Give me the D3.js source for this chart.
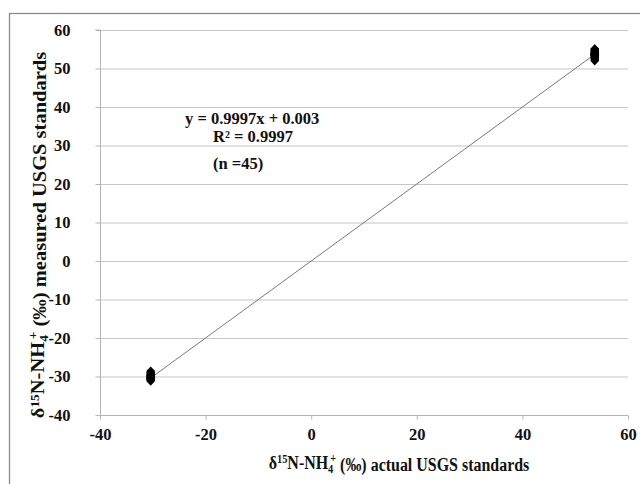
<!DOCTYPE html>
<html>
<head>
<meta charset="utf-8">
<script src="https://cdn.jsdelivr.net/npm/d3@7"></script>
<style>
body { margin: 0; background: #fff; }
text { font-family: "Liberation Serif", "Times New Roman", serif; font-weight: bold; fill: #111; }
</style>
</head>
<body>
<svg width="640" height="484"></svg>
<script>
var width = 640, height = 484

// USGS25 and USGS26 reference values (x) with the measured results (y)
var actualValues = [-30.4, 53.7]
var measuredLow = [-31.2, -31.0, -30.8, -30.7, -30.6, -30.5, -30.4, -30.4, -30.3, -30.2, -30.1,
	-30.0, -29.9, -29.8, -29.7, -29.6, -29.4, -29.2, -29.0, -28.8, -28.6]
var measuredHigh = [52.0, 52.3, 52.6, 52.8, 53.0, 53.2, 53.3, 53.4, 53.5, 53.5, 53.6, 53.7,
	53.7, 53.8, 53.9, 53.9, 54.0, 54.1, 54.2, 54.4, 54.6, 54.8, 55.0, 55.1]
var slope = 0.9997, intercept = 0.003
var xTicks = [-40, -20, 0, 20, 40, 60]
var yTicks = [-40, -30, -20, -10, 0, 10, 20, 30, 40, 50, 60]
var eqLines = ["y = 0.9997x + 0.003", "R² = 0.9997", "(n =45)"]

var points = []
measuredLow.forEach(function(v){ points.push({x: actualValues[0], y: v}) })
measuredHigh.forEach(function(v){ points.push({x: actualValues[1], y: v}) })

var svg = d3.select("svg")

// outer frame (runs off the right and bottom edges)
svg.append("rect")
	.attr("x", 9.5).attr("y", 13.5)
	.attr("width", 700).attr("height", 600)
	.attr("fill", "none").attr("stroke", "#8c8c8c").attr("stroke-width", 1.3)

var xScale = d3.scaleLinear().domain([-40, 60]).range([100, 628])
var yScale = d3.scaleLinear().domain([-40, 60]).range([415, 30])

// gridlines
svg.append("g").selectAll("line")
	.data(yTicks.filter(function(d){ return d > -40 }))
	.join("line")
	.attr("x1", xScale(-40)).attr("x2", xScale(60))
	.attr("y1", function(d){ return yScale(d) + 0.5 })
	.attr("y2", function(d){ return yScale(d) + 0.5 })
	.attr("stroke", "#c6c6c6").attr("stroke-width", 1.2)

function styleTicks(g){
	g.selectAll("path, line").attr("stroke", "#b4b4b4")
	g.selectAll("text")
		.style("font-family", "Liberation Serif").style("font-weight", "bold")
		.attr("font-size", 16.5).attr("fill", "#111")
}

// y axis
var yAxis = svg.append("g")
	.attr("transform", "translate(" + (xScale(-40) + 0.5) + ",0)")
	.call(d3.axisLeft(yScale).tickValues(yTicks).tickSize(5).tickPadding(25)
		.tickFormat(function(d){ return String(d) }))
styleTicks(yAxis)
yAxis.select(".domain").attr("d", "M-5," + yScale(60) + "H0V" + yScale(-40))

// x axis
var xAxis = svg.append("g")
	.attr("transform", "translate(0," + (yScale(-40) + 0.5) + ")")
	.call(d3.axisBottom(xScale).tickValues(xTicks).tickSize(4).tickPadding(9)
		.tickFormat(function(d){ return String(d) }))
styleTicks(xAxis)
xAxis.select(".domain").attr("d", "M" + xScale(-40) + ",0H" + xScale(60))

// trend line
svg.append("line")
	.attr("x1", xScale(actualValues[0]))
	.attr("y1", yScale(slope * actualValues[0] + intercept))
	.attr("x2", xScale(actualValues[1]))
	.attr("y2", yScale(slope * actualValues[1] + intercept))
	.attr("stroke", "#7a7a7a").attr("stroke-width", 1)

// points
svg.append("g").selectAll("path")
	.data(points)
	.join("path")
	.attr("d", d3.symbol().type(d3.symbolDiamond).size(40))
	.attr("transform", function(d){
		return "translate(" + xScale(d.x) + "," + yScale(d.y) + ") scale(1.3,0.8)"
	})
	.attr("fill", "#000")

// equation
var eqPos = [[185, 124], [213, 142], [213, 169]]
svg.append("g").selectAll("text")
	.data(eqLines)
	.join("text")
	.attr("x", function(d, i){ return eqPos[i][0] })
	.attr("y", function(d, i){ return eqPos[i][1] })
	.attr("font-size", 16.5)
	.text(function(d){ return d })

// axis titles with sub/superscripts
function titleParts(t, rest){
	t.append("tspan").text("δ")
	t.append("tspan").attr("font-size", "0.65em").attr("dy", "-0.45em").text("15")
	t.append("tspan").attr("dy", "0.29em").text("N-NH")
	t.append("tspan").attr("font-size", "0.65em").attr("dy", "0.3em").text("4")
	t.append("tspan").attr("font-size", "0.65em").attr("dx", "-0.3em").attr("dy", "-0.9em").text("+")
	t.append("tspan").attr("dy", "0.5em").text(rest)
}

var xt = svg.append("text")
	.attr("transform", "translate(399,469) scale(0.84,1)")
	.attr("text-anchor", "middle")
	.attr("font-size", 19)
titleParts(xt, " (‰) actual USGS standards")

var yt = svg.append("text")
	.attr("transform", "translate(44,235) scale(0.9,1) rotate(-90)")
	.attr("text-anchor", "middle")
	.attr("font-size", 20.5)
titleParts(yt, " (‰) measured  USGS standards")
</script>
</body>
</html>
